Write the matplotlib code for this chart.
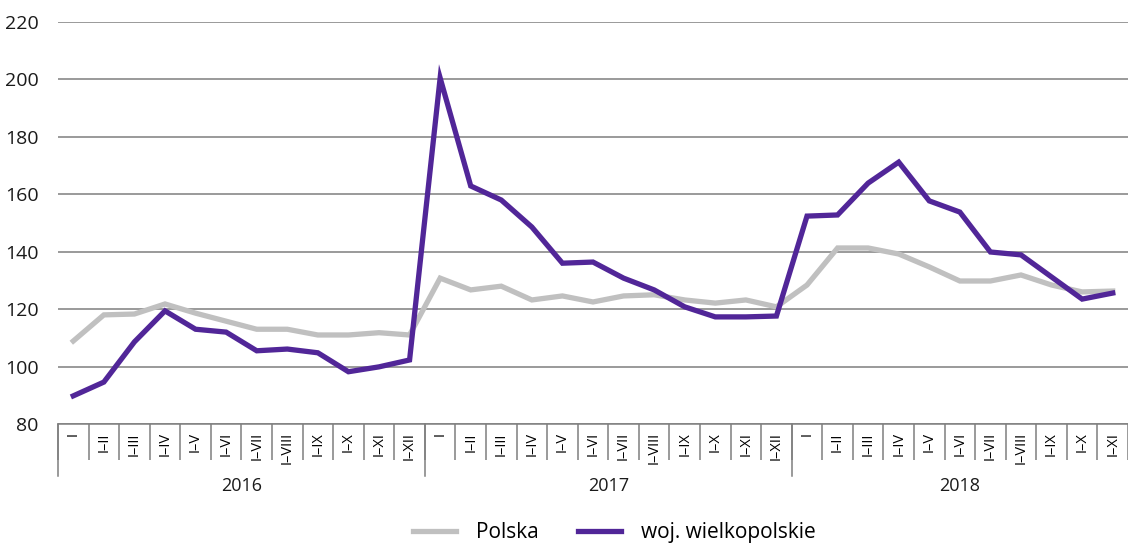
import numpy as np
from matplotlib import pyplot as plt
from matplotlib import transforms

plt.rcParams["font.family"] = ["Open Sans", "DejaVu Sans"]

months = ["I", "I–II", "I–III", "I–IV", "I–V", "I–VI", "I–VII", "I–VIII",
          "I–IX", "I–X", "I–XI", "I–XII"]
years = ["2016", "2017", "2018"]
months_per_year = [12, 12, 11]

polska = [108.9, 118.0, 118.3, 121.8, 118.6, 115.8, 113.0, 113.0, 111.0, 111.0, 111.8, 111.0,
          130.8, 126.7, 128.0, 123.2, 124.6, 122.5, 124.6, 125.0, 123.2, 122.1, 123.2, 120.8,
          128.4, 141.3, 141.3, 139.2, 134.7, 129.8, 129.8, 131.9, 128.4, 126.0, 126.3]
wielkopolskie = [89.8, 94.6, 108.6, 119.4, 113.0, 112.0, 105.5, 106.1, 104.8, 98.2, 99.9, 102.3,
                 200.5, 162.9, 158.0, 148.6, 136.0, 136.4, 130.8, 126.7, 120.8, 117.3, 117.3, 117.6,
                 152.4, 152.8, 163.9, 171.2, 157.7, 153.8, 139.9, 138.9, 131.2, 123.5, 125.6]

labels = []
for n in months_per_year:
    labels += months[:n]
x = np.arange(len(labels))

gray = "#c0c0c0"
purple = "#512698"
grid_color = "#7f7f7f"

fig = plt.figure(figsize=(11.28, 5.43), dpi=100)
ax = fig.add_axes([58 / 1128, 1 - 424 / 543, 1 - 58 / 1128, (424 - 22) / 543])

ax.plot(x, polska, color=gray, linewidth=3.8, label="Polska", solid_joinstyle="miter")
ax.plot(x, wielkopolskie, color=purple, linewidth=3.8, label="woj. wielkopolskie",
        solid_joinstyle="miter")

ax.set_xlim(-0.5, len(labels) - 0.5)
ax.set_ylim(80, 220)
ax.set_yticks(np.arange(80, 221, 20))
ax.yaxis.grid(True, color=grid_color, linewidth=1.1)
ax.set_axisbelow(True)
for s in ["left", "right", "top"]:
    ax.spines[s].set_visible(False)
ax.spines["bottom"].set_color(grid_color)
ax.spines["bottom"].set_linewidth(1.1)
ax.tick_params(axis="y", length=0, labelsize=14, pad=14, labelcolor="#1a1a1a")

ax.set_xticks(x)
ax.set_xticklabels(labels, rotation=90, fontsize=10.5)
ax.tick_params(axis="x", which="major", length=0, pad=6)
ax.set_xticks(np.arange(-0.5, len(labels), 1.0), minor=True)
ax.tick_params(axis="x", which="minor", length=26, color=grid_color, width=1.1)

# year separators and labels
trans = transforms.blended_transform_factory(ax.transData, ax.transAxes)
start = 0
bounds = [-0.5]
for year, n in zip(years, months_per_year):
    ax.text(start + (n - 1) / 2, -0.155, year, transform=trans, ha="center", va="center",
            fontsize=13, color="#1a1a1a")
    start += n
    bounds.append(start - 0.5)
for b in bounds[:-1]:
    ax.plot([b, b], [0, -0.13], transform=trans, color=grid_color, linewidth=1.1,
            clip_on=False)

ax.legend(loc="center", bbox_to_anchor=(0.52, -0.27), ncol=2, frameon=False,
          fontsize=15, handlelength=2.05, columnspacing=1.9, handletextpad=0.95)

plt.savefig("out.png", dpi=100)
